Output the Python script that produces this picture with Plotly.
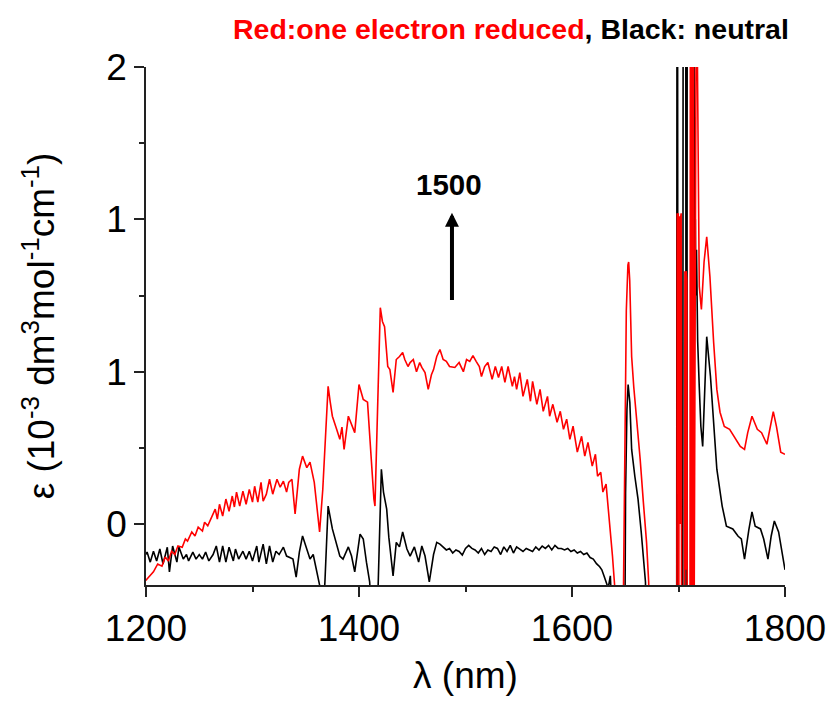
import plotly.graph_objects as go

# Wavelength (nm) and extinction coefficient (10^-3 dm^3 mol^-1 cm^-1)
# One-electron-reduced species
red_nm = [
    1200, 1201, 1207, 1211, 1215, 1218, 1221, 1224, 1227, 1230, 1234, 1237, 1239,
    1243, 1246, 1249, 1253, 1255, 1258, 1262, 1265, 1267, 1269, 1272, 1275, 1278,
    1281, 1283, 1285, 1288, 1291, 1294, 1297, 1300, 1302, 1305, 1308, 1310, 1313,
    1316, 1319, 1323, 1326, 1329, 1332, 1334, 1337, 1340, 1344, 1347, 1349, 1351,
    1354, 1358, 1360, 1363, 1366, 1369, 1371, 1373, 1375, 1379, 1382, 1384, 1386,
    1390, 1393, 1396, 1400, 1402, 1404, 1408, 1410, 1412, 1414, 1415, 1417, 1420,
    1422, 1424, 1427, 1429, 1432, 1435, 1438, 1441, 1443, 1446, 1448, 1451, 1454,
    1457, 1459, 1462, 1465, 1468, 1470, 1473, 1476, 1479, 1482, 1485, 1490, 1494,
    1498, 1501, 1504, 1507, 1510, 1513, 1515, 1518, 1521, 1525, 1528, 1531, 1534,
    1537, 1540, 1544, 1546, 1548, 1551, 1554, 1558, 1561, 1563, 1567, 1570, 1573,
    1577, 1579, 1582, 1586, 1589, 1592, 1595, 1598, 1601, 1605, 1609, 1612, 1615,
    1619, 1622, 1624, 1627, 1629, 1632, 1634, 1636, 1638, 1640, 1641, 1647.8,
    1649.5, 1651, 1652.5, 1653.2, 1654.2, 1655, 1656, 1658, 1661, 1664, 1667, 1670,
    1672, 1673, 1698.5, 1698.8, 1699.3, 1699.8, 1700.3, 1700.8, 1701.3, 1701.8,
    1702.5, 1702.9, 1705.6, 1706.0, 1706.6, 1707.2, 1707.8, 1708.2, 1710.8, 1711.2,
    1711.8, 1712.6, 1713.2, 1714.0, 1714.6, 1715.3, 1717.0, 1717.8, 1718.5, 1719.5,
    1721.5, 1724, 1726.5, 1729.5, 1733, 1736, 1739, 1743, 1748, 1752, 1758, 1762,
    1765, 1769, 1774, 1778, 1783, 1789, 1792, 1796, 1800,
]
red_eps = [
    0.315, 0.320, 0.343, 0.369, 0.362, 0.392, 0.379, 0.411, 0.400, 0.428, 0.424, 0.451, 0.444,
    0.474, 0.461, 0.490, 0.477, 0.506, 0.494, 0.523, 0.549, 0.516, 0.565, 0.526, 0.582, 0.542,
    0.592, 0.556, 0.605, 0.559, 0.608, 0.565, 0.614, 0.572, 0.624, 0.572, 0.637, 0.575, 0.598,
    0.647, 0.598, 0.647, 0.621, 0.641, 0.605, 0.637, 0.647, 0.533, 0.680, 0.723, 0.700, 0.685,
    0.703, 0.637, 0.572, 0.474, 0.614, 0.810, 0.952, 0.900, 0.854, 0.811, 0.778, 0.818, 0.745,
    0.854, 0.830, 0.800, 0.958, 0.930, 0.909, 0.900, 0.788, 0.700, 0.582, 0.559, 0.834, 1.210,
    1.165, 1.148, 1.017, 1.007, 0.932, 1.040, 1.050, 1.063, 1.040, 1.017, 1.030, 1.040, 1.000,
    1.030, 1.014, 0.997, 0.942, 0.990, 1.007, 1.050, 1.073, 1.040, 1.034, 1.017, 1.014, 1.030,
    1.000, 1.040, 1.034, 1.053, 1.034, 1.017, 0.984, 1.017, 1.030, 0.975, 1.017, 0.981, 1.017,
    0.965, 1.017, 0.952, 0.984, 0.942, 0.997, 0.919, 0.975, 0.903, 0.968, 0.893, 0.942, 0.870,
    0.919, 0.854, 0.893, 0.834, 0.870, 0.811, 0.844, 0.778, 0.821, 0.736, 0.788, 0.723, 0.768,
    0.690, 0.729, 0.657, 0.670, 0.605, 0.631, 0.559, 0.484, 0.395, 0.300, 0.100, 0.100,
    0.800, 1.200, 1.350, 1.360, 1.300, 1.150, 1.050, 0.950, 0.844, 0.713, 0.572, 0.440,
    0.310, 0.100, 0.100, 1.520, 0.600, 1.520, 0.200, 1.510, 0.500, 1.500,
    1.520, 0.100, 0.100, 1.330, 0.350, 1.330, 1.300, 0.100, 0.100, 2.600,
    0.100, 2.600, 0.100, 2.600, 0.100, 2.600, 2.600, 2.000, 1.500, 1.280,
    1.204, 1.360, 1.443, 1.312, 1.096, 0.942, 0.867, 0.820, 0.811, 0.788, 0.755, 0.745,
    0.800, 0.854, 0.811, 0.800, 0.762, 0.869, 0.820, 0.736, 0.729,
]

# Neutral species
black_nm = [
    1200, 1201, 1204, 1207, 1210, 1213, 1216, 1220, 1222, 1225, 1229, 1231, 1235,
    1238, 1240, 1244, 1247, 1250, 1253, 1256, 1259, 1263, 1266, 1269, 1272, 1275,
    1278, 1282, 1284, 1287, 1291, 1294, 1297, 1300, 1304, 1306, 1310, 1313, 1316,
    1319, 1322, 1325, 1329, 1332, 1335, 1338, 1341, 1344, 1347, 1351, 1354, 1357,
    1360, 1363, 1365, 1367, 1368, 1371, 1375, 1377, 1382, 1385, 1390, 1393, 1396,
    1401, 1404, 1407, 1410, 1412, 1417, 1418, 1421, 1423, 1426, 1428, 1432, 1435,
    1438, 1441, 1445, 1448, 1452, 1456, 1459, 1462, 1466, 1470, 1473, 1476, 1479,
    1482, 1485, 1488, 1491, 1494, 1497, 1500, 1503, 1506, 1509, 1512, 1515, 1518,
    1521, 1524, 1527, 1530, 1533, 1536, 1539, 1542, 1545, 1548, 1551, 1554, 1557,
    1560, 1563, 1566, 1569, 1572, 1575, 1578, 1581, 1584, 1587, 1590, 1593, 1596,
    1599, 1602, 1605, 1608, 1611, 1614, 1617, 1620, 1623, 1626, 1628, 1630, 1632,
    1634, 1636, 1638, 1639, 1649.6, 1650.3, 1651.6, 1652.7, 1654.3, 1656, 1659,
    1662, 1665, 1667, 1669, 1670, 1698.3, 1698.6, 1699.1, 1699.5, 1704.0, 1704.4,
    1706.8, 1707.1, 1707.9, 1708.2, 1714.3, 1714.9, 1715.3, 1715.8, 1716.3, 1716.9,
    1718.0, 1719.5, 1721.0, 1722.7, 1724.5, 1726.5, 1730, 1733, 1736, 1741, 1745,
    1751, 1756, 1759, 1762, 1766, 1769, 1772, 1777, 1780, 1784, 1787, 1790, 1794,
    1797, 1800,
]
black_eps = [
    0.400, 0.408, 0.375, 0.411, 0.379, 0.418, 0.369, 0.424, 0.343, 0.428, 0.375, 0.424, 0.385,
    0.400, 0.379, 0.408, 0.385, 0.400, 0.385, 0.408, 0.379, 0.400, 0.428, 0.375, 0.428, 0.375,
    0.424, 0.379, 0.418, 0.385, 0.411, 0.385, 0.411, 0.379, 0.428, 0.375, 0.434, 0.369, 0.428,
    0.375, 0.411, 0.400, 0.424, 0.395, 0.390, 0.385, 0.326, 0.408, 0.461, 0.418, 0.385, 0.400,
    0.352, 0.300, 0.200, 0.250, 0.310, 0.559, 0.484, 0.460, 0.395, 0.385, 0.425, 0.395, 0.343,
    0.467, 0.451, 0.375, 0.310, 0.200, 0.200, 0.300, 0.680, 0.605, 0.549, 0.457, 0.330, 0.440,
    0.425, 0.474, 0.418, 0.395, 0.425, 0.375, 0.428, 0.395, 0.310, 0.400, 0.440, 0.434, 0.425,
    0.415, 0.420, 0.405, 0.415, 0.410, 0.398, 0.420, 0.430, 0.420, 0.415, 0.405, 0.420, 0.400,
    0.415, 0.410, 0.425, 0.420, 0.400, 0.425, 0.410, 0.430, 0.405, 0.425, 0.418, 0.410, 0.420,
    0.415, 0.410, 0.425, 0.415, 0.428, 0.420, 0.430, 0.415, 0.430, 0.420, 0.420, 0.415, 0.420,
    0.410, 0.415, 0.405, 0.410, 0.400, 0.405, 0.390, 0.385, 0.370, 0.360, 0.350, 0.330, 0.310,
    0.290, 0.330, 0.200, 0.100, 0.100, 0.600, 0.876, 0.958, 0.900, 0.745, 0.657,
    0.582, 0.474, 0.385, 0.310, 0.100, 0.100, 2.600, 2.600, 0.100, 0.100, 2.600,
    2.600, 0.100, 0.100, 2.600, 2.600, 1.580, 1.300, 1.500, 1.250, 1.400,
    1.100, 0.950, 0.820, 0.755, 0.950, 1.115, 0.985, 0.820, 0.680, 0.559, 0.493,
    0.484, 0.460, 0.451, 0.385, 0.480, 0.540, 0.493, 0.484, 0.451, 0.385, 0.460, 0.510, 0.474,
    0.408, 0.350,
]

x_ticks = [1200, 1400, 1600, 1800]
x_minor = [1300, 1500, 1700]
y_ticks = [0.5, 1.0, 1.5, 2.0]
y_ticktext = ["0", "1", "1", "2"]
y_minor = [0.75, 1.25, 1.75]

FONT = "Liberation Sans, Arial, sans-serif"
AXIS_COLOR = "#222222"

fig = go.Figure()
fig.add_trace(go.Scatter(x=black_nm, y=black_eps, mode="lines",
                         line=dict(color="black", width=1.6), name="neutral"))
fig.add_trace(go.Scatter(x=red_nm, y=red_eps, mode="lines",
                         line=dict(color="#ff0000", width=1.6), name="one electron reduced"))

axis_common = dict(
    showgrid=False, zeroline=False, showline=True, linecolor=AXIS_COLOR, linewidth=1.6,
    ticks="outside", ticklen=10, tickwidth=1.6, tickcolor=AXIS_COLOR, automargin=False,
    tickfont=dict(family=FONT, size=37, color="black"),
)

fig.update_xaxes(
    range=[1200, 1800], tickmode="array", tickvals=x_ticks,
    minor=dict(tickmode="array", tickvals=x_minor, ticks="outside", ticklen=5,
               tickwidth=1.6, tickcolor=AXIS_COLOR),
    title=dict(text="λ (nm)", font=dict(family=FONT, size=37, color="black"), standoff=14),
    **axis_common,
)
fig.update_yaxes(
    range=[0.30, 2.0], tickmode="array", tickvals=y_ticks, ticktext=y_ticktext,
    minor=dict(tickmode="array", tickvals=y_minor, ticks="outside", ticklen=5,
               tickwidth=1.6, tickcolor=AXIS_COLOR),
    title=dict(text="ε (10<sup>-3</sup> dm<sup>3</sup>mol<sup>-1</sup>cm<sup>-1</sup>)",
               font=dict(family=FONT, size=37, color="black"), standoff=40),
    **axis_common,
)

fig.add_annotation(
    xref="paper", yref="paper", x=0.571, y=1.073, xanchor="center", yanchor="middle",
    text="<b><span style='color:#ff0000'>Red:one electron reduced</span>, Black: neutral</b>",
    showarrow=False, font=dict(family=FONT, size=28.5, color="black"),
)
fig.add_annotation(
    xref="paper", yref="paper", x=0.474, y=0.774, xanchor="center", yanchor="middle",
    text="<b>1500</b>", showarrow=False, font=dict(family=FONT, size=29.5, color="black"),
)
fig.add_annotation(
    x=1487.3, y=1.522, ax=1487.3, ay=1.23, xref="x", yref="y", axref="x", ayref="y",
    text="", showarrow=True, arrowhead=2, arrowsize=0.7, arrowwidth=4,
    arrowcolor="black", standoff=0,
)

fig.update_layout(
    width=833, height=702,
    margin=dict(l=146, r=48, t=67, b=117),
    paper_bgcolor="white", plot_bgcolor="white",
    showlegend=False,
)

fig.write_html("out.html")
